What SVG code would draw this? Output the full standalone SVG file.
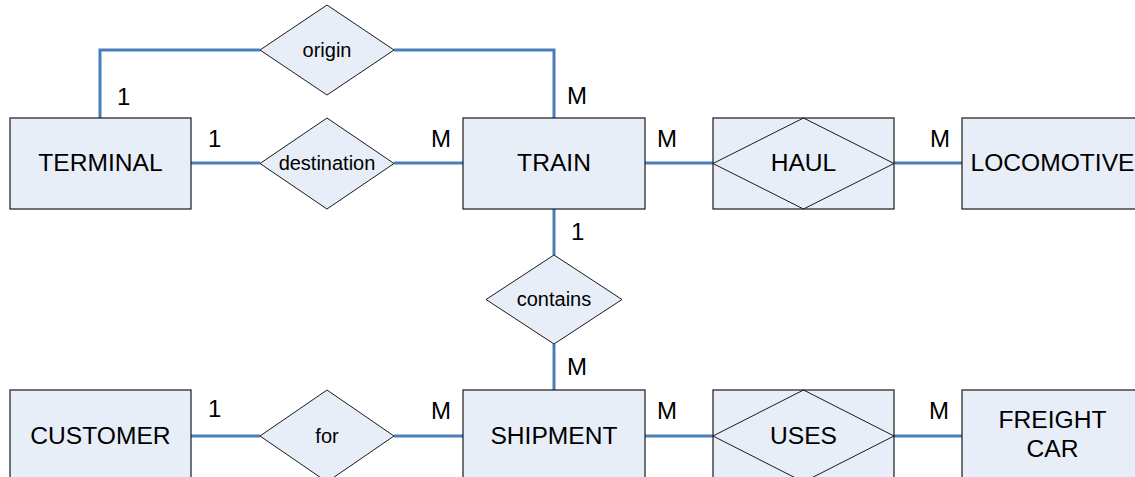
<svg xmlns="http://www.w3.org/2000/svg" width="1135" height="477" viewBox="0 0 1135 477">
<style>
.ent{fill:#e8eef8;stroke:#1a1a1a;stroke-width:1.2}
.rel{fill:#e8eef8;stroke:#1a1a1a;stroke-width:1}
.wk{fill:none;stroke:#1a1a1a;stroke-width:1}
.big{font-family:"Liberation Sans",Arial,sans-serif;font-size:24.6px;fill:#000;text-anchor:middle}
.sm{font-family:"Liberation Sans",Arial,sans-serif;font-size:20px;fill:#000;text-anchor:middle}
.card{font-family:"Liberation Sans",Arial,sans-serif;font-size:24px;fill:#000}
.ln{fill:none;stroke:#4a7ebb;stroke-width:3}
</style>
<rect width="1135" height="477" fill="#fff"/>
<g id="connectors">
<polyline class="ln" points="100,118 100,50 260,50"/>
<polyline class="ln" points="394,50 554,50 554,118"/>
<line class="ln" x1="191" y1="163" x2="260" y2="163"/>
<line class="ln" x1="394" y1="163" x2="463" y2="163"/>
<line class="ln" x1="645" y1="163" x2="713" y2="163"/>
<line class="ln" x1="894" y1="163" x2="962" y2="163"/>
<line class="ln" x1="554" y1="209" x2="554" y2="255"/>
<line class="ln" x1="554" y1="344" x2="554" y2="390"/>
<line class="ln" x1="191" y1="436" x2="260" y2="436"/>
<line class="ln" x1="394" y1="436" x2="463" y2="436"/>
<line class="ln" x1="645" y1="436" x2="713" y2="436"/>
<line class="ln" x1="894" y1="436" x2="962" y2="436"/>
<text class="card" x="117" y="105">1</text>
<text class="card" x="208" y="147">1</text>
<text class="card" x="567" y="104">M</text>
<text class="card" x="431" y="147">M</text>
<text class="card" x="657" y="147">M</text>
<text class="card" x="930" y="147">M</text>
<text class="card" x="571" y="240">1</text>
<text class="card" x="567" y="375">M</text>
<text class="card" x="208" y="417">1</text>
<text class="card" x="431" y="419">M</text>
<text class="card" x="657" y="419">M</text>
<text class="card" x="929" y="419">M</text>
</g>
<g id="terminal">
<rect class="ent" x="10" y="118" width="181" height="91"/>
<text class="big" x="100.5" y="171">TERMINAL</text>
</g>
<g id="origin">
<polygon class="rel" points="260,50 327,5 394,50 327,95"/>
<text class="sm" x="327" y="57">origin</text>
</g>
<g id="destination">
<polygon class="rel" points="260,163.5 327,118 394,163.5 327,209"/>
<text class="sm" x="327" y="170">destination</text>
</g>
<g id="train">
<rect class="ent" x="463" y="118" width="182" height="91"/>
<text class="big" x="554" y="171">TRAIN</text>
</g>
<g id="haul">
<rect class="ent" x="713" y="118" width="181" height="91"/>
<polygon class="wk" points="713,163.5 803.5,118 894,163.5 803.5,209"/>
<text class="big" x="803.5" y="171">HAUL</text>
</g>
<g id="locomotive">
<rect class="ent" x="962" y="118" width="181" height="91"/>
<text class="big" x="1052.5" y="171">LOCOMOTIVE</text>
</g>
<g id="contains">
<polygon class="rel" points="486,299.5 554,255 622,299.5 554,344"/>
<text class="sm" x="554" y="306">contains</text>
</g>
<g id="customer">
<rect class="ent" x="10" y="390" width="181" height="91"/>
<text class="big" x="100.5" y="444">CUSTOMER</text>
</g>
<g id="for">
<polygon class="rel" points="260,436 327,390 394,436 327,482"/>
<text class="sm" x="327" y="443">for</text>
</g>
<g id="shipment">
<rect class="ent" x="463" y="390" width="182" height="91"/>
<text class="big" x="554" y="444">SHIPMENT</text>
</g>
<g id="uses">
<rect class="ent" x="713" y="390" width="181" height="91"/>
<polygon class="wk" points="713,436 803.5,390 894,436 803.5,482"/>
<text class="big" x="803.5" y="444">USES</text>
</g>
<g id="freightcar">
<rect class="ent" x="962" y="390" width="181" height="91"/>
<text class="big" x="1052.5" y="428">FREIGHT</text>
<text class="big" x="1052.5" y="457">CAR</text>
</g>
</svg>
